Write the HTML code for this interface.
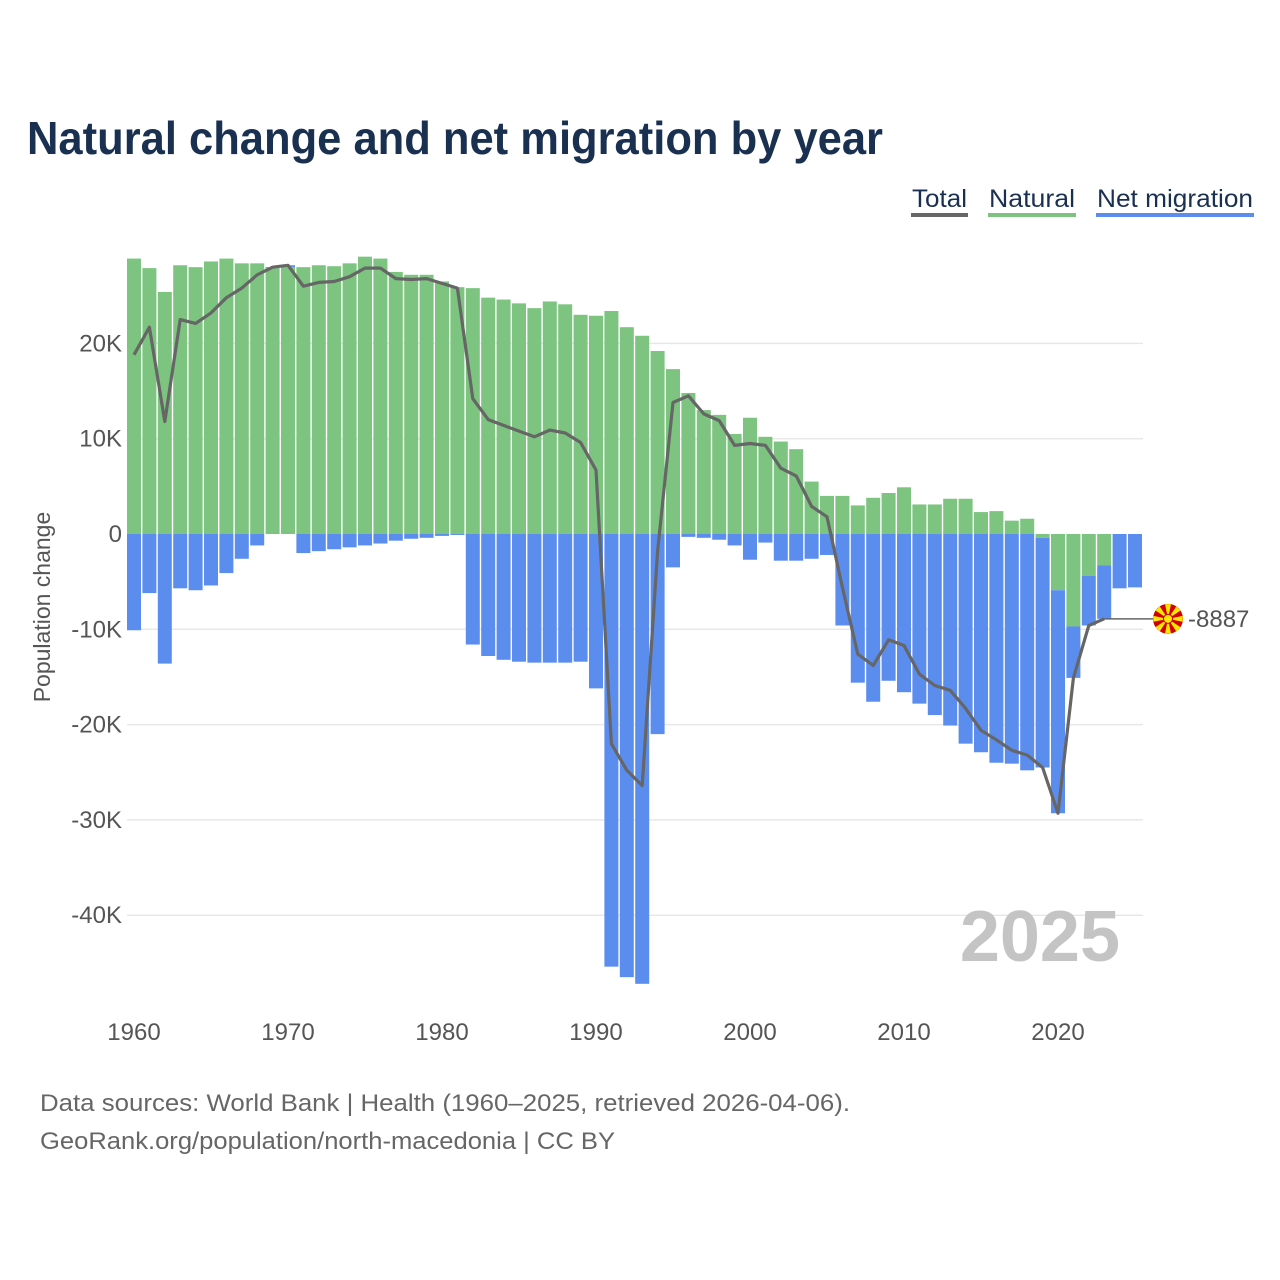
<!DOCTYPE html>
<html><head><meta charset="utf-8"><style>
html,body{margin:0;padding:0;background:#fff;}
svg{display:block;font-family:"Liberation Sans",sans-serif;}
</style></head><body>
<svg id="chart" width="1280" height="1280" viewBox="0 0 1280 1280" xmlns="http://www.w3.org/2000/svg">
<rect width="1280" height="1280" fill="#fff"/>
<text x="27" y="154" font-size="46" font-weight="bold" fill="#1a3050" textLength="856" lengthAdjust="spacingAndGlyphs">Natural change and net migration by year</text>
<g>
<g><text x="912" y="207" font-size="25" fill="#1a3050" textLength="55" lengthAdjust="spacingAndGlyphs">Total</text><rect x="911" y="213" width="57" height="4" fill="#666"/></g>
<g><text x="989" y="207" font-size="25" fill="#1a3050" textLength="86" lengthAdjust="spacingAndGlyphs">Natural</text><rect x="988" y="213" width="88" height="4" fill="#7cc47f"/></g>
<g><text x="1097" y="207" font-size="25" fill="#1a3050" textLength="156" lengthAdjust="spacingAndGlyphs">Net migration</text><rect x="1096" y="213" width="158" height="4" fill="#5b8def"/></g>
</g>
<g id="grid"></g>
<g id="yticks"></g>
<g id="xticks"></g>
<text x="1120" y="961" font-size="72" font-weight="bold" fill="#c4c4c4" text-anchor="end">2025</text>
<g id="bars"></g>
<g id="lines"></g>
<text transform="translate(50,607) rotate(-90)" font-size="23" fill="#555" text-anchor="middle">Population change</text>
<text x="40" y="1111" font-size="24" fill="#666" textLength="810" lengthAdjust="spacingAndGlyphs">Data sources: World Bank | Health (1960–2025, retrieved 2026-04-06).</text>
<text x="40" y="1149" font-size="24" fill="#666" textLength="575" lengthAdjust="spacingAndGlyphs">GeoRank.org/population/north-macedonia | CC BY</text>
</svg>
<script>
const years = [];
for (let y = 1960; y <= 2025; y++) years.push(y);
const natural = [28.9,27.9,25.4,28.2,28.0,28.6,28.9,28.4,28.4,27.9,
28.0,28.0,28.2,28.1,28.4,29.1,28.9,27.5,27.2,27.2,
26.5,25.9,25.8,24.8,24.6,24.2,23.7,24.4,24.1,23.0,
22.9,23.4,21.7,20.8,19.2,17.3,14.8,13.0,12.5,10.5,
12.2,10.2,9.7,8.9,5.5,4.0,4.0,3.0,3.8,4.3,
4.9,3.1,3.1,3.7,3.7,2.3,2.4,1.4,1.6,-0.4,
-5.9,-9.7,-4.4,-3.3,null,null];
const migration = [-10.1,-6.2,-13.6,-5.7,-5.9,-5.4,-4.1,-2.6,-1.2,0.1,
0.2,-2.0,-1.8,-1.6,-1.4,-1.2,-1.0,-0.7,-0.5,-0.4,
-0.2,-0.1,-11.6,-12.8,-13.2,-13.4,-13.5,-13.5,-13.5,-13.4,
-16.2,-45.4,-46.5,-47.2,-21.0,-3.5,-0.3,-0.4,-0.6,-1.2,
-2.7,-0.9,-2.8,-2.8,-2.6,-2.2,-9.6,-15.6,-17.6,-15.4,
-16.6,-17.8,-19.0,-20.1,-22.0,-22.9,-24.0,-24.1,-24.8,-24.1,
-23.4,-5.4,-5.2,-5.6,-5.7,-5.6];
const yTicks = [20,10,0,-10,-20,-30,-40];
const yTickLabels = ["20K","10K","0","-10K","-20K","-30K","-40K"];
const xTicks = [1960,1970,1980,1990,2000,2010,2020];
const lastLabel = "-8887";

const NS = "http://www.w3.org/2000/svg";
const yScale = v => 534 - v * 9.53;
const xScale = yr => 134 + (yr - 1960) * 15.4;
const BW = 14;
function mk(tag, attrs, parent){const e=document.createElementNS(NS,tag);for(const k in attrs)e.setAttribute(k,attrs[k]);parent.appendChild(e);return e;}
const grid=document.getElementById('grid'), yt=document.getElementById('yticks'), xt=document.getElementById('xticks');
yTicks.forEach((v,i)=>{
  if(v!==0){const g=mk('line',{x1:127,x2:1143,y1:yScale(v),y2:yScale(v),stroke:'#e8e8e8','stroke-width':1.5},grid);
  
  }
  const t=mk('text',{x:122,y:yScale(v)+8,'font-size':24,fill:'#555','text-anchor':'end'},yt);
  t.textContent=yTickLabels[i];
  
  
});
xTicks.forEach(yr=>{
  const t=mk('text',{x:xScale(yr),y:1040,'font-size':24,fill:'#555','text-anchor':'middle'},xt);
  t.textContent=String(yr);
  
  
});
const bars=document.getElementById('bars');
years.forEach((yr,i)=>{
  let pos=0,neg=0;
  [[natural[i],'#7cc47f','bar-natural'],[migration[i],'#5b8def','bar-migration']].forEach(([v,c,n])=>{
    if(v===null||v===undefined)return;
    let y0,y1;
    if(v>=0){y0=pos;y1=pos+v;pos=y1;}else{y0=neg;y1=neg+v;neg=y1;}
    const top=yScale(Math.max(y0,y1)), bot=yScale(Math.min(y0,y1));
    const r=mk('rect',{x:xScale(yr)-BW/2,y:top,width:BW,height:Math.max(0,bot-top),fill:c},bars);
    
    
  });
});
const lines=document.getElementById('lines');
let pts=[];let lastX=0,lastY=0;
years.forEach((yr,i)=>{
  if(natural[i]===null)return;
  const t=natural[i]+migration[i];
  lastX=xScale(yr);lastY=yScale(t);
  pts.push(lastX.toFixed(1)+','+lastY.toFixed(1));
});
const conn=mk('line',{x1:lastX,x2:1153,y1:lastY,y2:lastY,stroke:'#666','stroke-width':1.5},lines);


const pl=mk('polyline',{points:pts.join(' '),fill:'none',stroke:'#666','stroke-width':3.2,'stroke-linejoin':'round'},lines);


const flag=mk('g',{},lines);


const cx=1168,cy=lastY,R=15;
mk('circle',{cx:cx,cy:cy,r:R,fill:'#d20000'},flag);
for(let k=0;k<8;k++){const a=k*Math.PI/4;const w=0.2;
  const p=[[cx,cy],[cx+R*Math.cos(a-w),cy+R*Math.sin(a-w)],[cx+R*Math.cos(a+w),cy+R*Math.sin(a+w)]];
  mk('polygon',{points:p.map(q=>q.join(',')).join(' '),fill:'#ffe600'},flag);}
mk('circle',{cx:cx,cy:cy,r:4.5,fill:'#ffe600',stroke:'#d20000','stroke-width':1},flag);
const lbl=mk('text',{x:1188,y:lastY+8,'font-size':24,fill:'#555'},lines);
lbl.textContent=lastLabel;


</script>
</body></html>
